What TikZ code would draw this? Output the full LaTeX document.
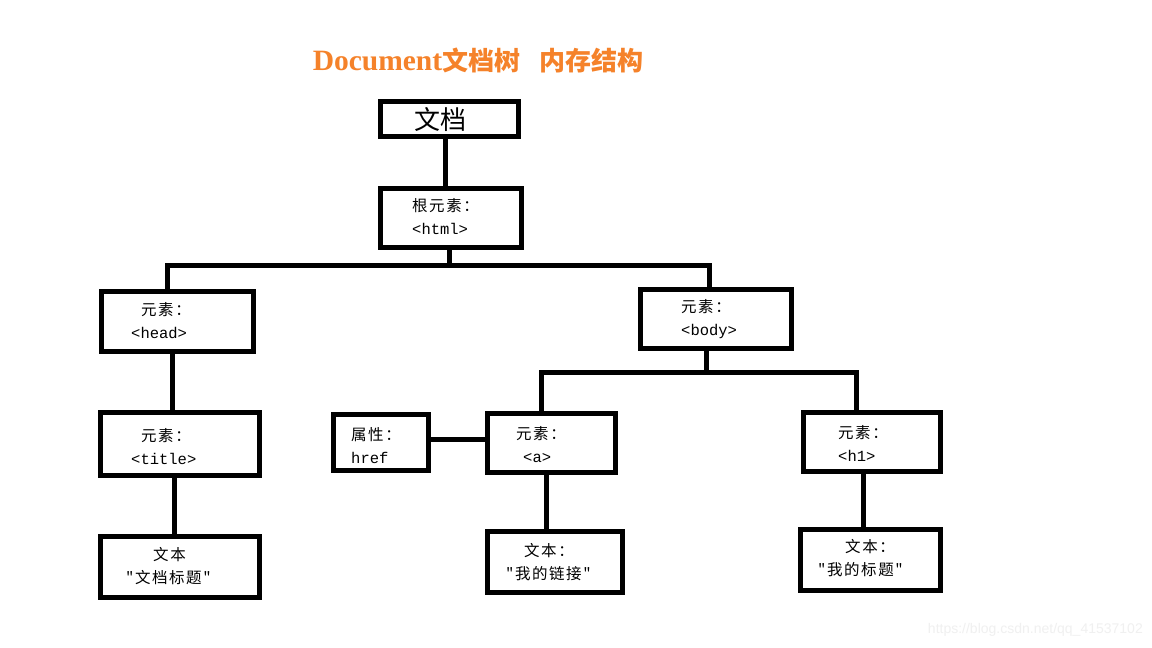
\documentclass[tikz,border=0pt]{standalone}
\usepackage{fontspec}
\setmainfont{Liberation Serif}
\newfontfamily\cjk{Noto Sans CJK SC}
\newfontfamily\cjkl[LetterSpace=10]{Noto Sans CJK SC}
\newfontfamily\tagf{Liberation Mono}
\newfontfamily\wmf{Liberation Sans}
\usetikzlibrary{positioning,calc}
\definecolor{docorange}{HTML}{F5822A}
\definecolor{wmgray}{HTML}{F0F0F0}
\tikzset{
  % kasten und linien
  box/.style={draw=black,line width=5pt,fill=white,inner sep=0pt},
  lbl/.style={anchor=west,align=left,inner sep=0pt,
              font=\cjkl\fontsize{15.5}{23}\selectfont},
  link/.style={draw=black,line width=5pt},
}

\begin{document}
\begin{tikzpicture}[x=1pt,y=-1pt]
  \useasboundingbox[fill=white] (0,0) rectangle (1152,648);
  % titel
  \node[font=\bfseries\fontsize{26}{30}\selectfont,text=docorange] (ttl) at (478,60)
    {{\fontsize{29.5}{30}\selectfont Document}{\cjk 文档树}\hspace{19pt}{\cjk 内存结构}};
  % kasten
  \node[box,minimum width=138pt,minimum height=35pt] (doc) at (449.5,119) {};
  \node[box,minimum width=141pt,minimum height=59pt] (html) at (451,218) {};
  \node[box,minimum width=152pt,minimum height=60pt] (head) at (177.5,321.5) {};
  \node[box,minimum width=159pt,minimum height=63pt] (title) at (180,444) {};
  \node[box,minimum width=159pt,minimum height=61pt] (ttext) at (180,567) {};
  \node[box,minimum width=151pt,minimum height=59pt] (body) at (716,319) {};
  \node[box,minimum width=95pt,minimum height=56pt] (attr) at (381,442.5) {};
  \node[box,minimum width=128pt,minimum height=59pt] (a) at (551.5,443) {};
  \node[box,minimum width=135pt,minimum height=61pt] (atext) at (555,562) {};
  \node[box,minimum width=137pt,minimum height=59pt] (h1) at (872,442) {};
  \node[box,minimum width=140pt,minimum height=61pt] (htext) at (870.5,560) {};
  % texte
  \node[lbl,font=\cjk\fontsize{26}{28}\selectfont] (doct) at (414,120) {文档};
  \node[lbl] (htmlt) at (412,216.5) {根元素：\\{\tagf <html>}};
  \node[lbl] (headt) at (131,320.5) {\hspace*{10pt}元素：\\{\tagf <head>}};
  \node[lbl] (titlet) at (131,446.5) {\hspace*{10pt}元素：\\{\tagf <title>}};
  \node[lbl] (ttextt) at (126,566) {\hspace*{27pt}文本\\"文档标题"};
  \node[lbl] (bodyt) at (681,319.5) {元素：\\{\tagf <body>}};
  \node[lbl] (attrt) at (351,445.5) {属性：\\{\tagf href}};
  \node[lbl] (at) at (516,444.5) {元素：\\\hspace*{7pt}{\tagf <a>}};
  \node[lbl] (atextt) at (506,562.5) {\hspace*{18pt}文本：\\"我的链接"};
  \node[lbl] (h1t) at (838,443.5) {元素：\\{\tagf <h1>}};
  \node[lbl] (htextt) at (818,558.5) {\hspace*{27pt}文本：\\"我的标题"};
  % verbindungen
  \draw[link] ([xshift=-4.5pt]doc.south) -- ([xshift=-4.5pt]doc.south |- html.north);
  \draw[link] ([xshift=-2pt]html.south) -- ++(0,15.5) coordinate (hbus);
  \draw[link] ([xshift=-10.5pt]head.north) |- (hbus) -| ([xshift=-7pt]body.north);
  \draw[link] ([xshift=-5.5pt]head.south) -- ([xshift=-5.5pt]head.south |- title.north);
  \draw[link] ([xshift=-6pt]title.south) -- ([xshift=-6pt]title.south |- ttext.north);
  \draw[link] ([xshift=-10pt]body.south) -- ++(0,21.5) coordinate (bbus);
  \draw[link] ([xshift=-10.5pt]a.north) |- (bbus) -| ([xshift=-16pt]h1.north);
  \draw[link] ([yshift=3.5pt]attr.east) -- ([yshift=3.5pt]attr.east -| a.west);
  \draw[link] ([xshift=-5.5pt]a.south) -- ([xshift=-5.5pt]a.south |- atext.north);
  \draw[link] ([xshift=-9pt]h1.south) -- ([xshift=-9pt]h1.south |- htext.north);
  % wasserzeichen
  \node[anchor=east,inner sep=0pt,text=wmgray,font=\wmf\fontsize{14}{16}\selectfont]
    (wm) at (1143,630) {https://blog.csdn.net/qq\_41537102};
\end{tikzpicture}
\end{document}
